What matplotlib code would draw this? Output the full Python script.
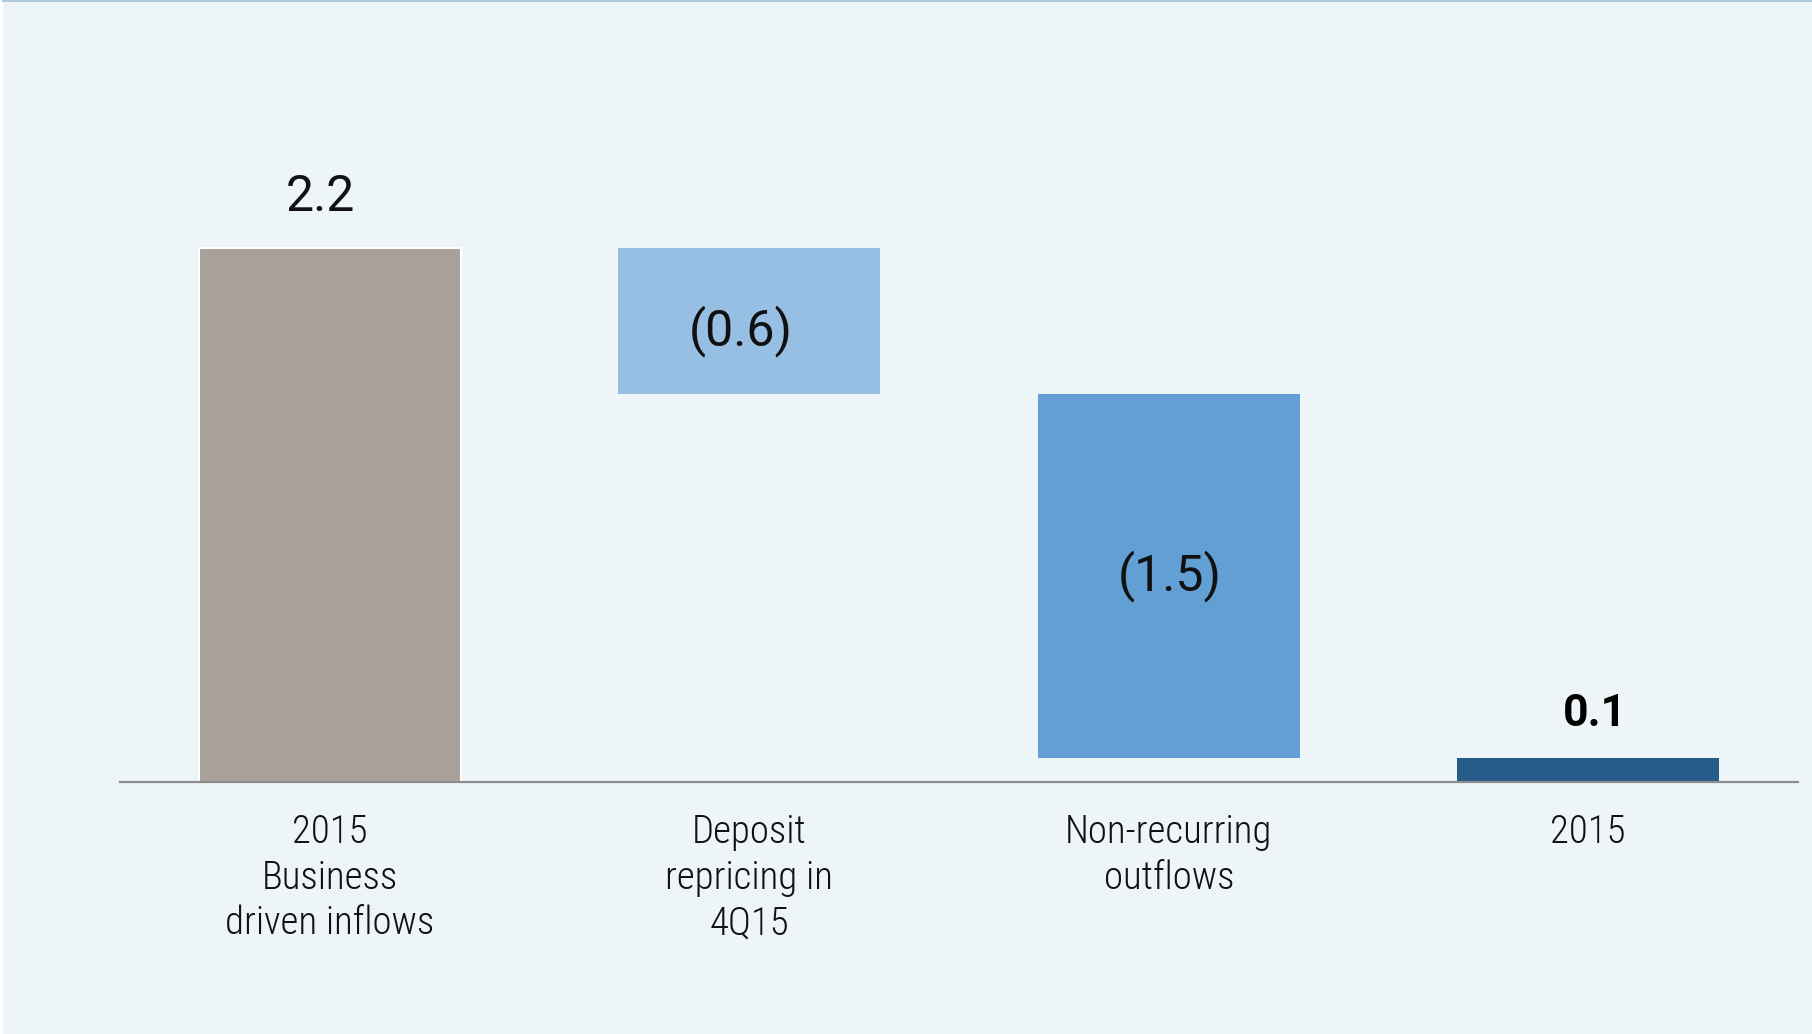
import numpy as np
import matplotlib.pyplot as plt
from matplotlib.patches import Rectangle

# waterfall steps
categories = ["2015\nBusiness\ndriven inflows", "Deposit\nrepricing in\n4Q15",
              "Non-recurring\noutflows", "2015"]
values = [2.2, -0.6, -1.5, 0.1]
is_total = [False, False, False, True]
colors = ["#a9a09a", "#97bfe3", "#619fd4", "#245b88"]

bg = "#edf5f8"
num_font = ["Roboto", "Liberation Sans", "DejaVu Sans"]
cat_font = ["Roboto Condensed", "Liberation Sans", "DejaVu Sans"]

fig = plt.figure(figsize=(18.12, 10.34), dpi=100, facecolor="white")
fig.patches.append(Rectangle((3 / 1812, 0), 1, 1 - 2 / 1034, transform=fig.transFigure,
                             facecolor=bg, edgecolor="none", zorder=-10))
fig.add_artist(plt.Line2D([3 / 1812, 1], [1 - 1 / 1034, 1 - 1 / 1034],
                          transform=fig.transFigure, color="#b3cbe0", lw=1.5))

ax = fig.add_axes([120 / 1812, 252 / 1034, 1678 / 1812, 782 / 1034])
ax.set_facecolor("none")

x = np.arange(len(values))
bottoms = []
heights = []
running = 0.0
for v, tot in zip(values, is_total):
    if tot:
        bottoms.append(0.0)
        heights.append(v)
        running = v
    elif v >= 0:
        bottoms.append(running)
        heights.append(v)
        running += v
    else:
        running += v
        bottoms.append(running)
        heights.append(-v)

ax.bar(x, heights, bottom=bottoms, width=0.625, color=colors, zorder=2)
# first bar gets a thin white outline
ax.patches[0].set_edgecolor("white")
ax.patches[0].set_linewidth(1.5)

# small nudges for the labels inside the negative bars
inner_shift = {1: (-6, -7), 2: (1, 0)}

for i, v in enumerate(values):
    if v < 0:
        ax.annotate("(%.1f)" % abs(v), (x[i], bottoms[i] + heights[i] / 2),
                    xytext=inner_shift[i], textcoords="offset points",
                    ha="center", va="center", fontsize=36,
                    family=num_font, color="#111111")
    elif is_total[i]:
        ax.annotate("%.1f" % v, (x[i], bottoms[i] + heights[i]), xytext=(5, 23),
                    textcoords="offset points", ha="center", va="baseline",
                    fontsize=32, fontweight="bold", family=num_font, color="#000000")
    else:
        ax.annotate("%.1f" % v, (x[i], bottoms[i] + heights[i]), xytext=(-7, 27),
                    textcoords="offset points", ha="center", va="baseline",
                    fontsize=36, family=num_font, color="#111111")

ax.set_xlim(-0.5, 3.5)
ax.set_ylim(0, 782 / 242.6)
ax.set_xticks(x)
ax.set_xticklabels(categories, fontsize=28, fontweight="light", family=cat_font,
                   color="#111111", linespacing=1.27)
ax.tick_params(axis="x", length=0, pad=23)
ax.set_yticks([])
for s in ["top", "left", "right"]:
    ax.spines[s].set_visible(False)
ax.spines["bottom"].set_color("#8c8c8c")
ax.spines["bottom"].set_linewidth(1.6)
ax.spines["bottom"].set_zorder(3)

fig.savefig("out.png", dpi=100, facecolor=fig.get_facecolor())
